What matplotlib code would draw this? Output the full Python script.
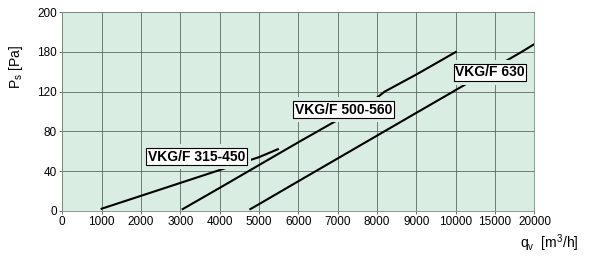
import numpy as np
import matplotlib
matplotlib.use("Agg")
import matplotlib.pyplot as plt

plt.rcParams['font.family'] = ['Liberation Sans', 'DejaVu Sans']

# axis breakpoints: value -> evenly spaced grid position (the chart is not linear)
x_breaks = [0, 10000, 15000, 20000]
x_pos = [0, 10, 11, 12]
y_breaks = [0, 120, 180, 200]
y_pos = [0, 3, 4, 5]

x_ticks = [0, 1000, 2000, 3000, 4000, 5000, 6000, 7000, 8000, 9000, 10000, 15000, 20000]
y_ticks = [0, 40, 80, 120, 180, 200]

# curves (q in m3/h, ps in Pa)
q_315 = [1000, 2000, 3000, 4000, 5000, 5480]
ps_315 = [2, 15, 28, 41, 54, 62]

q_500 = [3060, 4000, 5000, 6000, 7000, 8000, 8190, 9000, 10000]
ps_500 = [1.6, 23, 46, 69, 91.5, 114, 120, 146, 180]

q_630 = [4780, 5000, 6000, 7000, 8000, 9000, 9930, 10000, 15000, 18350, 20000]
ps_630 = [1.6, 6.6, 29.7, 52.7, 75.7, 98.7, 120, 122.5, 157, 180, 184]

labels = ["VKG/F 315-450", "VKG/F 500-560", "VKG/F 630"]
label_q = [3410, 7150, 14350]
label_ps = [54.6, 101.8, 149]

bg = '#d9ede3'


def fx(v):
    return np.interp(v, x_breaks, x_pos)


def fx_inv(v):
    return np.interp(v, x_pos, x_breaks)


def fy(v):
    return np.interp(v, y_breaks, y_pos)


def fy_inv(v):
    return np.interp(v, y_pos, y_breaks)


fig = plt.figure(figsize=(5.91, 2.62), dpi=100)
ax = fig.add_axes([0.1054, 0.1958, 0.7989, 0.7572])
ax.set_facecolor(bg)
ax.set_xscale('function', functions=(fx, fx_inv))
ax.set_yscale('function', functions=(fy, fy_inv))
ax.set_xlim(0, 20000)
ax.set_ylim(0, 200)

ax.set_xticks(x_ticks)
ax.set_xticklabels([str(t) for t in x_ticks], fontsize=8.5)
ax.set_yticks(y_ticks)
ax.set_yticklabels([str(t) for t in y_ticks], fontsize=8.5)
ax.minorticks_off()
ax.tick_params(length=2, width=0.6, color='#506050', pad=2)
ax.grid(True, color='#5a6a5e', linewidth=0.6)
ax.set_axisbelow(True)
for s in ax.spines.values():
    s.set_color('#7a8a7e')
    s.set_linewidth(0.6)

curves = [(q_315, ps_315), (q_500, ps_500), (q_630, ps_630)]
for i, ((q, ps), txt, lq, lps) in enumerate(zip(curves, labels, label_q, label_ps)):
    z = 3 + i * 0.2
    ax.plot(q, ps, color='black', linewidth=1.5, zorder=z)
    # background-coloured halo breaks only this curve around its label
    ax.text(lq, lps, txt, fontsize=10, fontweight='bold', color=bg,
            ha='center', va='center', zorder=z + 0.1,
            bbox=dict(boxstyle='square,pad=0.4', facecolor=bg, edgecolor='none'))
    ax.text(lq, lps, txt, fontsize=10, fontweight='bold', color='black',
            ha='center', va='center', zorder=5,
            bbox=dict(boxstyle='square,pad=0.12', facecolor='white',
                      edgecolor='black', linewidth=0.8))

fig.text(0.027, 0.745, r'P$_\mathregular{s}$ [Pa]', rotation=90,
         ha='center', va='center', fontsize=10)
fig.text(0.93, 0.07, r'q$_\mathregular{v}$  [m$^\mathregular{3}$/h]',
         ha='center', va='center', fontsize=10)

fig.savefig('out.png', dpi=100)
